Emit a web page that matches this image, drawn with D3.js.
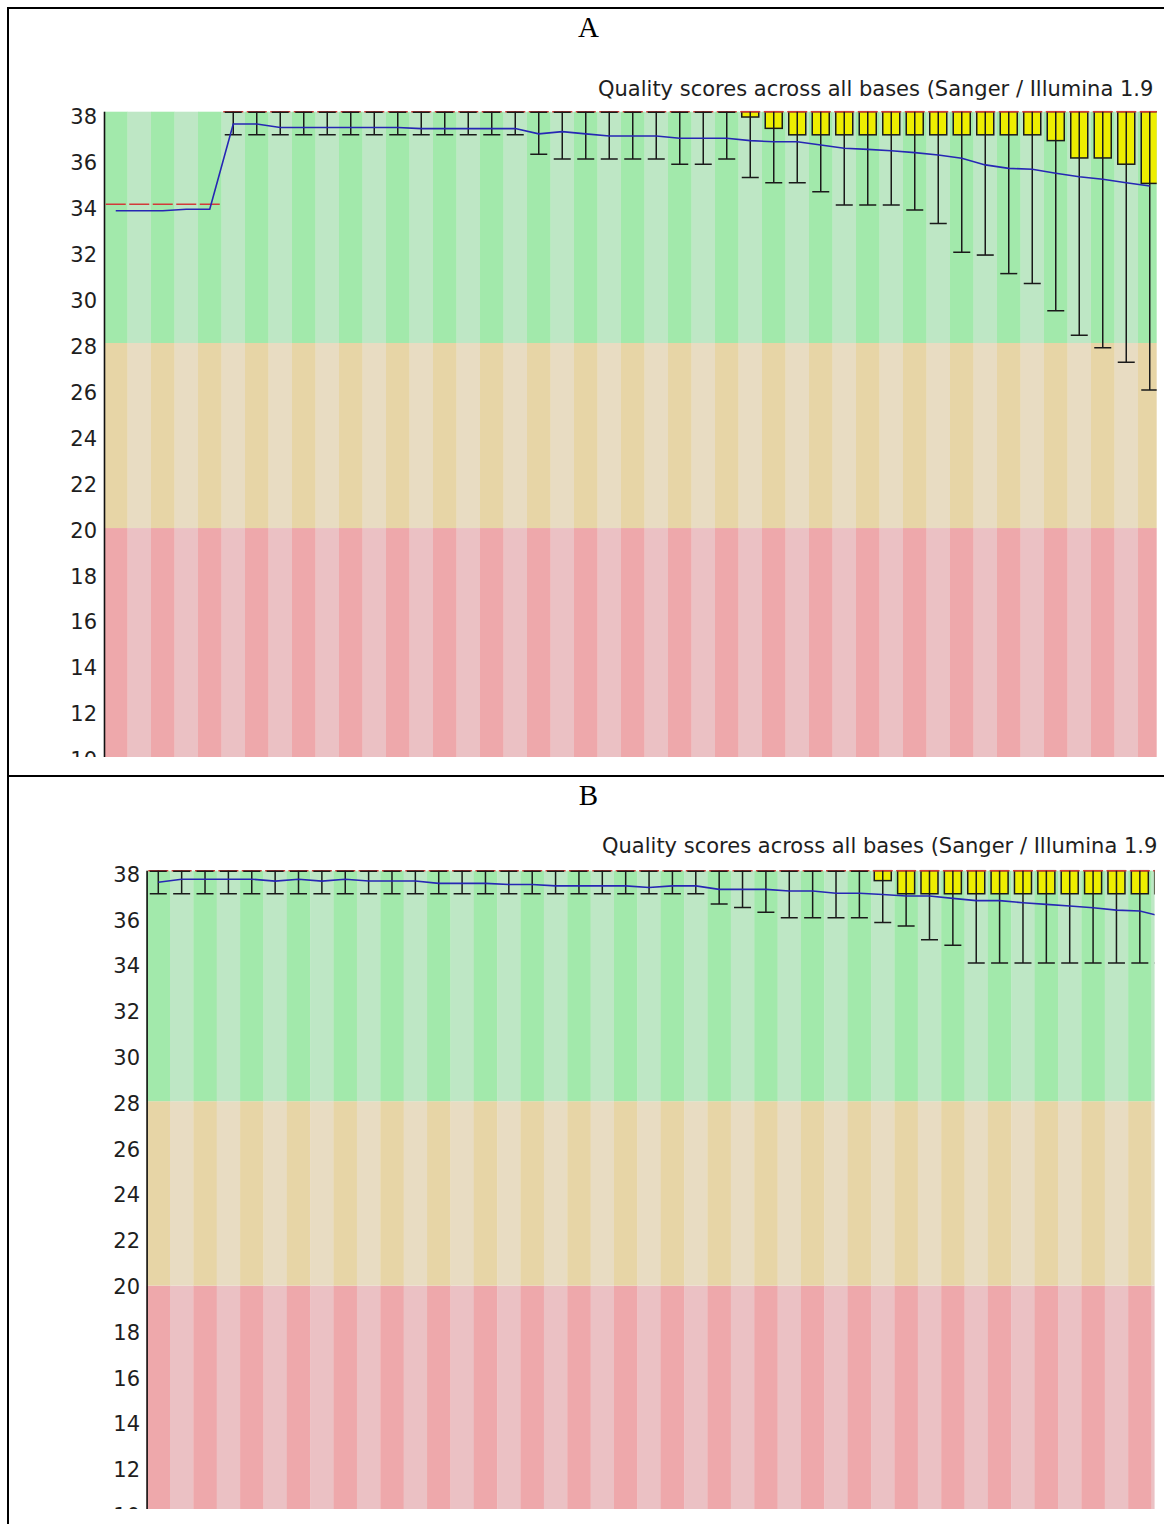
<!DOCTYPE html>
<html>
<head>
<meta charset="utf-8">
<script src="https://cdnjs.cloudflare.com/ajax/libs/d3/7.8.5/d3.min.js"></script>
<style>
	body { margin: 0; background: #fff; }
	svg { display: block; }
</style>
</head>
<body>
<div id="chart"></div>
<script>
const yTicks = [38, 36, 34, 32, 30, 28, 26, 24, 22, 20, 18, 16, 14, 12, 10];
const bandLimits = [10, 20, 28, 38];
const plotTitle = 'Quality scores across all bases (Sanger / Illumina 1.9';

// panel A, one value per base group (left to right)
const aMean = [33.72, 33.72, 33.72, 33.78, 33.78, 37.47, 37.47, 37.32, 37.32, 37.32, 37.32, 37.32, 37.32,
	37.27, 37.27, 37.27, 37.27, 37.27, 37.04, 37.14, 37.04, 36.95, 36.95, 36.95, 36.85, 36.85, 36.85,
	36.75, 36.7, 36.7, 36.56, 36.42, 36.37, 36.31, 36.23, 36.13, 35.99, 35.7, 35.55, 35.51, 35.34,
	35.19, 35.08, 34.93, 34.79];
const aMedian = [34, 34, 34, 34, 34, 38, 38, 38, 38, 38, 38, 38, 38, 38, 38, 38, 38, 38, 38, 38, 38, 38, 38,
	38, 38, 38, 38, 38, 38, 38, 38, 38, 38, 38, 38, 38, 38, 38, 38, 38, 38, 38, 38, 38, 38];
const aQ1 = [34, 34, 34, 34, 34, 38, 38, 38, 38, 38, 38, 38, 38, 38, 38, 38, 38, 38, 38, 38, 38, 38, 38,
	38, 38, 38, 38, 37.77, 37.28, 37, 37, 37, 37, 37, 37, 37, 37, 37, 37, 37, 36.75, 36, 36, 35.73, 34.9];
const aQ3 = [34, 34, 34, 34, 34, 38, 38, 38, 38, 38, 38, 38, 38, 38, 38, 38, 38, 38, 38, 38, 38, 38, 38,
	38, 38, 38, 38, 38, 38, 38, 38, 38, 38, 38, 38, 38, 38, 38, 38, 38, 38, 38, 38, 38, 38];
const aLow = [34, 34, 34, 34, 34, 37, 37, 37, 37, 37, 37, 37, 37, 37, 37, 37, 37, 37, 36.16, 35.95, 35.95,
	35.95, 35.95, 35.95, 35.73, 35.73, 35.95, 35.15, 34.93, 34.93, 34.54, 33.97, 33.97, 33.97, 33.75,
	33.17, 31.92, 31.8, 31.0, 30.57, 29.39, 28.34, 27.8, 27.17, 25.97];
const aHigh = [34, 34, 34, 34, 34, 38, 38, 38, 38, 38, 38, 38, 38, 38, 38, 38, 38, 38, 38, 38, 38, 38, 38,
	38, 38, 38, 38, 38, 38, 38, 38, 38, 38, 38, 38, 38, 38, 38, 38, 38, 38, 38, 38, 38, 38];

// panel B
const bMean = [37.5, 37.63, 37.63, 37.63, 37.63, 37.55, 37.63, 37.55, 37.63, 37.55, 37.55, 37.55,
	37.45, 37.45, 37.45, 37.4, 37.4, 37.34, 37.34, 37.34, 37.34, 37.27, 37.34, 37.34, 37.19, 37.19,
	37.19, 37.12, 37.12, 37.02, 37.02, 36.97, 36.9, 36.9, 36.8, 36.7, 36.7, 36.61, 36.54, 36.47,
	36.39, 36.29, 36.25, 36.0];
const bMedian = [38, 38, 38, 38, 38, 38, 38, 38, 38, 38, 38, 38, 38, 38, 38, 38, 38, 38, 38, 38, 38, 38,
	38, 38, 38, 38, 38, 38, 38, 38, 38, 38, 38, 38, 38, 38, 38, 38, 38, 38, 38, 38, 38, 38];
const bQ1 = [38, 38, 38, 38, 38, 38, 38, 38, 38, 38, 38, 38, 38, 38, 38, 38, 38, 38, 38, 38, 38, 38,
	38, 38, 38, 38, 38, 38, 38, 38, 38, 37.57, 37, 37, 37, 37, 37, 37, 37, 37, 37, 37, 37, 37];
const bQ3 = [38, 38, 38, 38, 38, 38, 38, 38, 38, 38, 38, 38, 38, 38, 38, 38, 38, 38, 38, 38, 38, 38,
	38, 38, 38, 38, 38, 38, 38, 38, 38, 38, 38, 38, 38, 38, 38, 38, 38, 38, 38, 38, 38, 38];
const bLow = [37, 37, 37, 37, 37, 37, 37, 37, 37, 37, 37, 37, 37, 37, 37, 37, 37, 37, 37, 37, 37, 37,
	37, 37, 36.55, 36.4, 36.2, 35.96, 35.96, 35.96, 35.96, 35.75, 35.6, 35.0, 34.77, 34, 34, 34, 34,
	34, 34, 34, 34, 34];
const bHigh = [38, 38, 38, 38, 38, 38, 38, 38, 38, 38, 38, 38, 38, 38, 38, 38, 38, 38, 38, 38, 38, 38,
	38, 38, 38, 38, 38, 38, 38, 38, 38, 38, 38, 38, 38, 38, 38, 38, 38, 38, 38, 38, 38, 38];

const WIDTH = 1164;
const HEIGHT = 1524;
const BAND_COLORS = [
	['#eea8ab', '#ebc1c4'],
	['#e7d5a6', '#e8dcc2'],
	['#a2e9ab', '#bee7c5'],
];
const FONT = '"DejaVu Sans", Verdana, sans-serif';

class QualityPlot {
	constructor({ svg, key, letter, letterY, left, top, bottom, right, colWidth, unit, labelTop, labelUnit, labelGap, titleX, titleY, series }) {
		this.svg = svg;
		this.key = key;
		this.letter = letter;
		this.letterY = letterY;
		this.left = left;
		this.top = top;
		this.bottom = bottom;
		this.right = right;
		this.colWidth = colWidth;
		this.unit = unit;
		this.labelTop = labelTop;
		this.labelUnit = labelUnit;
		this.labelGap = labelGap;
		this.titleX = titleX;
		this.titleY = titleY;
		this.series = series;
	}
	createWrapper() {
		const s = this.series;
		this.cols = s.mean.map((m, i) => ({
			i, mean: m, median: s.median[i], q1: s.q1[i], q3: s.q3[i], low: s.low[i], high: s.high[i],
		}));
		const n = this.cols.length;
		this.x = d3.scaleBand()
			.domain(d3.range(n))
			.range([this.left, this.left + n * this.colWidth]);
		this.y = d3.scaleLinear()
			.domain([38, 10])
			.range([this.top, this.top + 28 * this.unit]);
		// the tick labels sit on a slightly tighter grid than the plot itself
		this.yLabel = d3.scaleLinear()
			.domain([38, 10])
			.range([this.labelTop, this.labelTop + 28 * this.labelUnit]);
		this.cx = (i) => this.x(i) + this.x.bandwidth() / 2;

		const clipId = 'clip-' + this.key;
		this.svg.append('clipPath')
			.attr('id', clipId)
			.append('rect')
				.attr('x', 0)
				.attr('y', this.top - 12)
				.attr('width', this.right)
				.attr('height', this.bottom - this.top + 12);
		this.body = this.svg.append('g')
			.attr('class', 'body-' + this.key)
			.attr('clip-path', `url(#${clipId})`);
	}
	renderBands() {
		const bands = d3.range(bandLimits.length - 1).map((k) => ({
			from: bandLimits[k], to: bandLimits[k + 1], colors: BAND_COLORS[k],
		}));
		bands.forEach((b) => {
			this.body.append('g')
				.attr('class', 'band')
				.selectAll('rect')
				.data(this.cols)
				.join('rect')
					.attr('x', (d) => this.x(d.i))
					.attr('width', this.x.bandwidth() + 0.3)
					.attr('y', this.y(b.to))
					.attr('height', this.y(b.from) - this.y(b.to))
					.attr('fill', (d) => b.colors[d.i % 2]);
		});
	}
	renderAxis() {
		const axis = d3.axisLeft(this.yLabel)
			.tickValues(yTicks)
			.tickSize(0)
			.tickSizeOuter(0)
			.tickPadding(this.labelGap)
			.tickFormat(d3.format('d'));
		const g = this.body.append('g')
			.attr('transform', `translate(${this.left},0)`)
			.call(axis);
		g.select('.domain').remove();
		g.selectAll('text')
			.attr('dy', '0.36em')
			.style('font-family', FONT)
			.style('font-size', '21px')
			.attr('fill', '#1e1e1e');
		this.body.append('line')
			.attr('x1', this.left + 0.5)
			.attr('x2', this.left + 0.5)
			.attr('y1', this.y(38))
			.attr('y2', this.bottom)
			.attr('stroke', '#111')
			.attr('stroke-width', 1.6);
	}
	renderBoxes() {
		const half = 8.5;
		this.body.append('g')
			.selectAll('rect')
			.data(this.cols.filter((d) => d.q1 < d.q3))
			.join('rect')
				.attr('x', (d) => this.cx(d.i) - half)
				.attr('width', half * 2)
				.attr('y', (d) => this.y(d.q3))
				.attr('height', (d) => this.y(d.q1) - this.y(d.q3))
				.attr('fill', '#eeee00')
				.attr('stroke', '#1a1a1a')
				.attr('stroke-width', 1.5);
	}
	renderMedians() {
		this.body.append('g')
			.selectAll('line')
			.data(this.cols)
			.join('line')
				.attr('x1', (d) => this.cx(d.i) - 10)
				.attr('x2', (d) => this.cx(d.i) + 10)
				.attr('y1', (d) => this.y(d.median))
				.attr('y2', (d) => this.y(d.median))
				.attr('stroke', '#d23a3a')
				.attr('stroke-width', 1.6);
	}
	renderWhiskers() {
		const half = 8.5;
		const g = this.body.append('g')
			.attr('stroke', '#1a1a1a')
			.attr('stroke-width', 1.5);
		const cols = this.cols.filter((d) => d.low < d.high);
		g.selectAll('line.stem')
			.data(cols)
			.join('line')
				.attr('class', 'stem')
				.attr('x1', (d) => this.cx(d.i))
				.attr('x2', (d) => this.cx(d.i))
				.attr('y1', (d) => this.y(d.high))
				.attr('y2', (d) => this.y(d.low));
		g.selectAll('line.low-cap')
			.data(cols)
			.join('line')
				.attr('class', 'low-cap')
				.attr('x1', (d) => this.cx(d.i) - half)
				.attr('x2', (d) => this.cx(d.i) + half)
				.attr('y1', (d) => this.y(d.low))
				.attr('y2', (d) => this.y(d.low));
		// top cap only shows where no box sits on it
		g.selectAll('line.high-cap')
			.data(cols.filter((d) => !(d.q1 < d.q3)))
			.join('line')
				.attr('class', 'high-cap')
				.attr('x1', (d) => this.cx(d.i) - half)
				.attr('x2', (d) => this.cx(d.i) + half)
				.attr('y1', (d) => this.y(d.high) + 0.5)
				.attr('y2', (d) => this.y(d.high) + 0.5);
	}
	renderMean() {
		const line = d3.line()
			.x((d) => this.cx(d.i))
			.y((d) => this.y(d.mean));
		this.body.append('path')
			.datum(this.cols)
			.attr('d', line)
			.attr('fill', 'none')
			.attr('stroke', '#2626b4')
			.attr('stroke-width', 1.6);
	}
	renderText() {
		this.svg.append('text')
			.attr('x', this.titleX)
			.attr('y', this.titleY)
			.style('font-family', FONT)
			.style('font-size', '21px')
			.attr('fill', '#1e1e1e')
			.text(plotTitle);
		this.svg.append('text')
			.attr('x', 588.5)
			.attr('y', this.letterY)
			.attr('text-anchor', 'middle')
			.style('font-family', '"Liberation Serif", "Times New Roman", serif')
			.style('font-size', '29px')
			.attr('fill', '#000')
			.text(this.letter);
	}
	render() {
		this.createWrapper();
		this.renderBands();
		this.renderAxis();
		this.renderBoxes();
		this.renderMedians();
		this.renderWhiskers();
		this.renderMean();
		this.renderText();
	}
}

const svg = d3.select('#chart')
	.append('svg')
		.attr('width', WIDTH)
		.attr('height', HEIGHT);

new QualityPlot({
	svg, key: 'a', letter: 'A', letterY: 36.7,
	left: 104, top: 111.7, bottom: 757, right: 1156.7,
	colWidth: 23.5, unit: 23.13,
	labelTop: 116.2, labelUnit: 22.965, labelGap: 7,
	titleX: 598, titleY: 96,
	series: { mean: aMean, median: aMedian, q1: aQ1, q3: aQ3, low: aLow, high: aHigh },
}).render();

new QualityPlot({
	svg, key: 'b', letter: 'B', letterY: 805,
	left: 146.6, top: 870.7, bottom: 1509, right: 1154.6,
	colWidth: 23.37, unit: 23.05,
	labelTop: 873.7, labelUnit: 22.9, labelGap: 6.6,
	titleX: 602, titleY: 853,
	series: { mean: bMean, median: bMedian, q1: bQ1, q3: bQ3, low: bLow, high: bHigh },
}).render();

// table frame round the two panels
const frame = svg.append('g')
	.attr('stroke', '#000')
	.attr('stroke-width', 2);
frame.append('line').attr('x1', 8).attr('x2', 8).attr('y1', 7).attr('y2', HEIGHT);
frame.append('line').attr('x1', 7).attr('x2', WIDTH).attr('y1', 8).attr('y2', 8);
frame.append('line').attr('x1', 7).attr('x2', WIDTH).attr('y1', 776).attr('y2', 776);
</script>
</body>
</html>
